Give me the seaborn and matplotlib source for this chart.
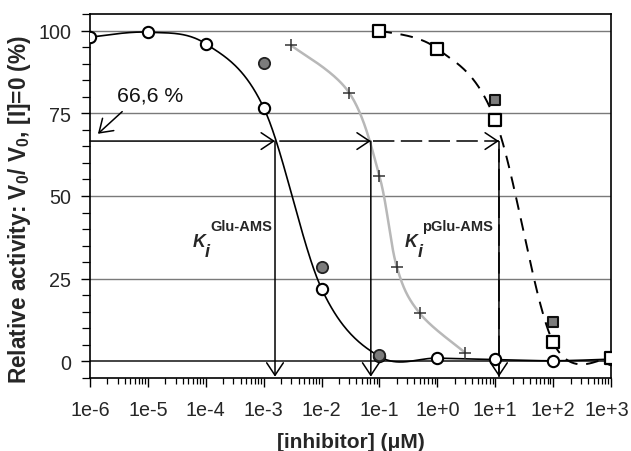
import numpy as np
import pandas as pd
import matplotlib
matplotlib.use("Agg")
import matplotlib.pyplot as plt
from matplotlib.ticker import FixedLocator, LogLocator, MultipleLocator, NullFormatter
from matplotlib.transforms import ScaledTranslation
import seaborn as sns

# ---------------- data ----------------
conc = [1e-6, 1e-5, 1e-4, 1e-3, 1e-2, 1e-1, 1e0, 1e1, 1e2, 1e3]
glu_open = [98, 99.5, 96, 76.7, 22, 1.5, 1.0, 0.6, 0.2, 0.7]

glu_filled_x = [1e-3, 1e-2, 1e-1]
glu_filled_y = [90.3, 28.5, 1.8]

pglu_x = [3e-3, 3e-2, 1e-1, 2e-1, 5e-1, 3e0]
pglu_y = [95.5, 81.2, 56, 28.5, 14.5, 2.7]

sq_x = [1e-1, 1e0, 1e1, 1e2, 1e3]
sq_open = [100, 94.5, 73, 5.8, 1.0]
sq_filled_x = [1e1, 1e2]
sq_filled_y = [79, 11.8]

level = 66.6
ki_glu = 1.57e-3
ki_pglu = 7.1e-2
ki_third = 11.6

xticks = [1e-6, 1e-5, 1e-4, 1e-3, 1e-2, 1e-1, 1e0, 1e1, 1e2, 1e3]
xtick_labels = ["1e-6", "1e-5", "1e-4", "1e-3", "1e-2", "1e-1", "1e+0", "1e+1", "1e+2", "1e+3"]
yticks = [0, 25, 50, 75, 100]


def smooth(xs, ys, n=60):
    """Excel-like smoothed line (Catmull-Rom Bezier) in log-x space."""
    P = np.column_stack([np.log10(xs), np.asarray(ys, float)])
    P = np.vstack([P[0], P, P[-1]])
    out = []
    t = np.linspace(0, 1, n)[:, None]
    for i in range(1, len(P) - 2):
        p0, p1, p2, p3 = P[i - 1], P[i], P[i + 1], P[i + 2]
        c1 = p1 + (p2 - p0) / 6
        c2 = p2 - (p3 - p1) / 6
        B = (1 - t) ** 3 * p1 + 3 * (1 - t) ** 2 * t * c1 + 3 * (1 - t) * t ** 2 * c2 + t ** 3 * p2
        out.append(B)
    out = np.vstack(out)
    return pd.DataFrame({"x": 10 ** out[:, 0], "y": out[:, 1]})


sns.set_theme(style="white")
plt.rcParams["font.family"] = ["Liberation Sans", "DejaVu Sans"]
plt.rcParams["mathtext.default"] = "regular"

W, H = 631, 452
fig = plt.figure(figsize=(W / 100, H / 100), dpi=100)
ax = fig.add_axes([90 / W, 1 - 379 / H, (611 - 90) / W, (379 - 15) / H])

ax.set_xscale("log")
ax.set_xlim(1e-6, 1e3)
ax.set_ylim(-5, 105)

# grid lines
for yv in yticks[1:]:
    ax.axhline(yv, color="#7a7a7a", lw=1.0, zorder=0)
ax.axhline(0, color="#111111", lw=1.1, zorder=0)

# curves
c1 = smooth(conc, glu_open)
sns.lineplot(data=c1, x="x", y="y", ax=ax, sort=False, estimator=None, color="black", lw=1.2, zorder=2)
c2 = smooth(pglu_x, pglu_y)
sns.lineplot(data=c2, x="x", y="y", ax=ax, sort=False, estimator=None, color="#b8b8b8", lw=1.8, zorder=2)
c3 = smooth(sq_x, sq_open)
sns.lineplot(data=c3, x="x", y="y", ax=ax, sort=False, estimator=None, color="black", lw=1.4,
             linestyle=(0, (6.5, 4.5)), zorder=2)

# arrows
arrow_kw = dict(arrowstyle="->,head_length=0.45,head_width=0.3", color="black", lw=1.1,
                shrinkA=0, shrinkB=0, mutation_scale=20)
tip_y = -4.6


def solid_arrow(x0, y0, x1, y1):
    ax.annotate("", xy=(x1, y1), xytext=(x0, y0), arrowprops=arrow_kw, zorder=3)


solid_arrow(1e-6, level, ki_glu, level)
solid_arrow(1.9e-3, level, ki_pglu, level)
solid_arrow(ki_glu, level, ki_glu, tip_y)
solid_arrow(ki_pglu, level, ki_pglu, tip_y)

dash = (0, (14, 4.2))
ax.plot([7.6e-2, ki_third], [level, level], color="black", lw=1.1, linestyle=dash, zorder=3)
ax.plot([ki_third, ki_third], [level, tip_y], color="black", lw=1.1, linestyle=dash, zorder=3)
solid_arrow(ki_third * 0.9, level, ki_third, level)
solid_arrow(ki_third, level - 2.5, ki_third, tip_y)

# 66,6 % label with arrow
ax.annotate("", xy=(1.37e-6, 68.8), xytext=(3.6e-6, 75.5), arrowprops=arrow_kw, zorder=3)

# markers
sns.scatterplot(x=conc, y=glu_open, ax=ax, marker="o", s=66, color="white", edgecolor="black",
                linewidth=1.5, zorder=5)
sns.scatterplot(x=glu_filled_x, y=glu_filled_y, ax=ax, marker="o", s=66, color="#7c7c7c",
                edgecolor="#222222", linewidth=1.3, zorder=6)
sns.scatterplot(x=pglu_x, y=pglu_y, ax=ax, marker="+", s=70, color="#333333", linewidth=1.1, zorder=5)
sns.scatterplot(x=sq_x, y=sq_open, ax=ax, marker="s", s=64, color="white", edgecolor="black",
                linewidth=1.6, zorder=5)
sns.scatterplot(x=sq_filled_x, y=sq_filled_y, ax=ax, marker="s", s=60, color="#7c7c7c",
                edgecolor="#111111", linewidth=1.5, zorder=6)

# ticks
ax.xaxis.set_major_locator(FixedLocator(xticks))
ax.set_xticklabels(xtick_labels)
ax.xaxis.set_minor_locator(LogLocator(base=10, subs=np.arange(2, 10), numticks=20))
ax.xaxis.set_minor_formatter(NullFormatter())
ax.set_yticks(yticks)
ax.yaxis.set_minor_locator(MultipleLocator(5))
ax.tick_params(axis="both", which="major", direction="out", length=6.5, width=1.0, color="black",
               labelsize=14.2, pad=7, bottom=True, left=True)
ax.tick_params(axis="x", which="major", pad=9.5)
ax.tick_params(axis="both", which="minor", direction="out", length=4, width=0.9, color="black",
               bottom=True, left=True)
ax.tick_params(axis="y", which="minor", length=5.5)
for s in ax.spines.values():
    s.set_color("black")
    s.set_linewidth(1.2)
    s.set_visible(True)

# keep the last x tick label inside the canvas
lab = ax.get_xticklabels()[-1]
lab.set_transform(lab.get_transform() + ScaledTranslation(-3 / 72, 0, fig.dpi_scale_trans))

ax.set_xlabel("[inhibitor] (μM)", fontsize=15, fontweight="bold", labelpad=9)
ax.set_ylabel("Relative activity: V$_\\mathregular{0}$/ V$_\\mathregular{0}$, [I]=0 (%)",
              fontsize=16.3, fontweight="bold")
ax.yaxis.set_label_coords((33 - 90) / 521, (379 - 209) / 364)


def fx(px):
    return px / W


def fy(py):
    return 1 - py / H


fig.text(fx(117), fy(102), "66,6 %", fontsize=15.3, ha="left", va="baseline", color="#111111")

for kx, ix, sx, sup in [(193, 205, 210, "Glu-AMS"), (405, 418, 422, "pGlu-AMS")]:
    fig.text(fx(kx), fy(247), "K", fontsize=12.8, fontweight="bold", style="italic", ha="left", va="baseline")
    fig.text(fx(ix), fy(257), "i", fontsize=13, fontweight="bold", style="italic", ha="left", va="baseline")
    fig.text(fx(sx), fy(231), sup, fontsize=10.5, fontweight="bold", ha="left", va="baseline")

fig.savefig("out.png", dpi=100)
